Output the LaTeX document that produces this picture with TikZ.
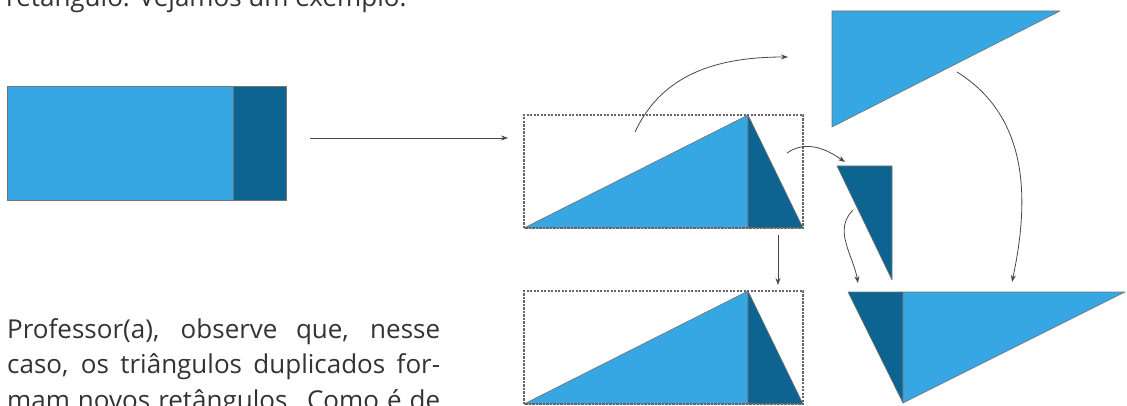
\documentclass[tikz,border=0pt]{standalone}
\usepackage{fontspec}
\setmainfont{Open Sans}
\usetikzlibrary{arrows.meta}

\definecolor{lightblu}{RGB}{54,167,227}
\definecolor{darkblu}{RGB}{14,100,144}

\begin{document}
\begin{tikzpicture}[
    x=1pt, y=1pt,
    every node/.style={font=\fontsize{26}{35}\selectfont, text=black!80, inner sep=0pt},
    light/.style={fill=lightblu, draw=black!55, line width=0.6pt, line join=round},
    dark/.style={fill=darkblu, draw=black!55, line width=0.6pt, line join=round},
    frame/.style={draw=black!60, line width=1.2pt, dash pattern=on 2.2pt off 1.3pt},
    move/.style={-{Stealth[length=7pt, width=5pt]}, line width=0.8pt, black!72}
]
    \useasboundingbox (0,0) rectangle (1127,405);

    % ==========================
    % TEXT
    % ==========================
    \node[anchor=base west] (intro) at (6,398) {retângulo. Vejamos um exemplo.};

    \foreach \i/\y/\txt in {
        1/67/{Professor(a), observe que, nesse},
        2/32/{caso, os triângulos duplicados for-},
        3/-4/{mam novos retângulos. Como é de}}
    {
        \node[anchor=base west] (line\i) at (7,\y) {\makebox[433pt][s]{\txt}};
    }

    % ==========================
    % LEFT: the rectangle
    % ==========================
    \draw[light] (7,205) rectangle (233,319);
    \draw[dark] (233,205) rectangle (286,319);

    \coordinate (r1) at (310,267);
    \coordinate (r2) at (508,267);
    \draw[move] (r1) -- (r2);

    % ==========================
    % MIDDLE: cut rectangle, twice
    % ==========================
    \foreach \dy in {0pt,-176pt}
    {
        \begin{scope}[yshift=\dy]
            \draw[light] (524,177) -- (748,290) -- (748,177) -- cycle;
            \draw[dark] (748,290) -- (748,177) -- (803,177) -- cycle;
            \draw[frame] (524,177) rectangle (803,290);
        \end{scope}
    }

    % ==========================
    % RIGHT: the moved pieces
    % ==========================
    \draw[light] (832,394) -- (1060,394) -- (832,278) -- cycle;
    \draw[dark] (837,239) -- (892,239) -- (892,125) -- cycle;

    \draw[dark] (848,113) -- (903,113) -- (903,2) -- cycle;
    \draw[light] (903,113) -- (1125,113) -- (903,2) -- cycle;

    % arrows between the pieces
    \coordinate (a1) at (635,273);
    \coordinate (a2) at (788,348);
    \coordinate (b1) at (957,333);
    \coordinate (b2) at (1012,123);
    \coordinate (c1) at (787,252);
    \coordinate (c2) at (845,243);
    \coordinate (d1) at (853,195);
    \coordinate (d2) at (858,122);
    \coordinate (v1) at (778,170);
    \coordinate (v2) at (778,120);

    \draw[move] (a1) to[out=65, in=180] (a2);
    \draw[move] (b1) to[out=-32, in=78] (b2);
    \draw[move] (c1) to[out=35, in=145] (c2);
    \draw[move] (d1) to[out=225, in=100] (d2);
    \draw[move] (v1) -- (v2);

\end{tikzpicture}
\end{document}
